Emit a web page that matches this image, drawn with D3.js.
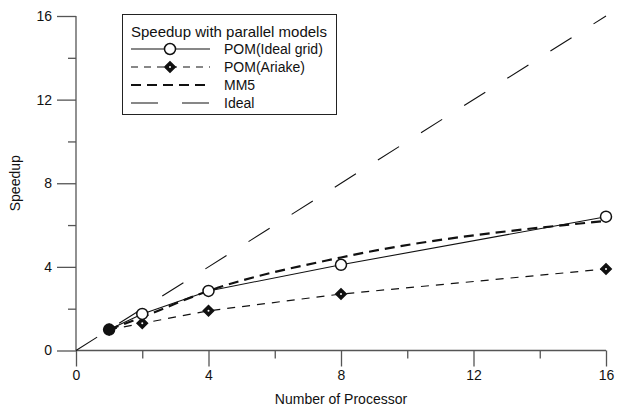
<!DOCTYPE html>
<html>
<head>
<meta charset="utf-8">
<script src="https://cdn.jsdelivr.net/npm/d3@7"></script>
<style>
  body { margin: 0; background: #fff; }
  svg text { font-family: "Liberation Sans", Arial, sans-serif; fill: #111; }
</style>
</head>
<body>
<div id="chart"></div>
<script>
// data
const procs = [1, 2, 4, 8, 16];
const pomIdeal = [1, 1.75, 2.85, 4.1, 6.4];
const pomAriake = [1, 1.3, 1.9, 2.7, 3.9];
const mm5 = [1, 1.6, 2.85, 4.45, 6.2];
const idealX = [0, 16];
const idealY = [0, 16];
const xTicks = [0, 4, 8, 12, 16];
const yTicks = [0, 4, 8, 12, 16];
const minorTicks = [2, 6, 10, 14];
const legendNames = ["POM(Ideal grid)", "POM(Ariake)", "MM5", "Ideal"];

const W = 617, H = 408;
const svg = d3.select("#chart").append("svg")
    .attr("width", W)
    .attr("height", H);

const x = d3.scaleLinear().domain([0, 16]).range([76, 606]);
const y = d3.scaleLinear().domain([0, 16]).range([350.5, 16]);
const axisColor = "#555";

// axes: major ticks long, minor short, both pointing outward
const xAxis = svg.append("g").attr("transform", `translate(0,${y(0)})`)
    .call(d3.axisBottom(x).tickValues(xTicks).tickSize(16).tickPadding(4).tickFormat(d3.format("d")));
const xMinor = svg.append("g").attr("transform", `translate(0,${y(0)})`)
    .call(d3.axisBottom(x).tickValues(minorTicks).tickSize(8).tickFormat(""));
const yAxis = svg.append("g").attr("transform", `translate(${x(0)},0)`)
    .call(d3.axisLeft(y).tickValues(yTicks).tickSize(19).tickPadding(5).tickFormat(d3.format("d")));
const yMinor = svg.append("g").attr("transform", `translate(${x(0)},0)`)
    .call(d3.axisLeft(y).tickValues(minorTicks).tickSize(8).tickFormat(""));

[xAxis, xMinor, yAxis, yMinor].forEach(g => {
    g.attr("font-family", null).attr("font-size", null);
    g.select(".domain").attr("stroke", axisColor).attr("stroke-width", 1.3);
    g.selectAll(".tick line").attr("stroke", axisColor).attr("stroke-width", 1.3);
    g.selectAll(".tick text").style("font-size", "14px").attr("fill", "#111");
});
// plain axis lines without end caps
xAxis.select(".domain").attr("d", `M${x(0)},0H${x(16)}`);
xMinor.select(".domain").remove();
yAxis.select(".domain").attr("d", `M0,${y(0)}V${y(16)}`);
yMinor.select(".domain").remove();

svg.append("text")
    .attr("x", x(8)).attr("y", 404)
    .attr("text-anchor", "middle")
    .style("font-size", "14px")
    .text("Number of Processor");

svg.append("text")
    .attr("transform", `translate(20,${y(8)}) rotate(-90)`)
    .attr("text-anchor", "middle")
    .style("font-size", "14px")
    .text("Speedup");

const line = d3.line().x(d => x(d[0])).y(d => y(d[1]));

// Ideal
svg.append("path")
    .datum(d3.zip(idealX, idealY))
    .attr("d", line)
    .attr("fill", "none").attr("stroke", "#111").attr("stroke-width", 1.1)
    .attr("stroke-dasharray", "25,26");

// POM(Ariake)
svg.append("path")
    .datum(d3.zip(procs, pomAriake))
    .attr("d", line)
    .attr("fill", "none").attr("stroke", "#111").attr("stroke-width", 1.2)
    .attr("stroke-dasharray", "8,7");

// MM5
svg.append("path")
    .datum(d3.zip(procs, mm5))
    .attr("d", d3.line().curve(d3.curveMonotoneX).x(d => x(d[0])).y(d => y(d[1])))
    .attr("fill", "none").attr("stroke", "#111").attr("stroke-width", 2.2)
    .attr("stroke-dasharray", "10,6");

// POM(Ideal grid)
svg.append("path")
    .datum(d3.zip(procs, pomIdeal))
    .attr("d", line)
    .attr("fill", "none").attr("stroke", "#111").attr("stroke-width", 1.1);

const diamond = d3.symbol().type(d3.symbolDiamond2).size(70);

svg.selectAll(".ariake")
    .data(d3.zip(procs, pomAriake))
    .enter().append("path")
    .attr("class", "ariake")
    .attr("transform", d => `translate(${x(d[0])},${y(d[1])})`)
    .attr("d", diamond)
    .attr("fill", "#111").attr("stroke", "#111").attr("stroke-width", 1.5);
svg.selectAll(".ariakeDot")
    .data(d3.zip(procs, pomAriake).slice(1))
    .enter().append("circle")
    .attr("cx", d => x(d[0])).attr("cy", d => y(d[1]))
    .attr("r", 1).attr("fill", "#fff");

svg.selectAll(".pomIdeal")
    .data(d3.zip(procs, pomIdeal))
    .enter().append("circle")
    .attr("class", "pomIdeal")
    .attr("cx", d => x(d[0])).attr("cy", d => y(d[1]))
    .attr("r", 5.5)
    .attr("fill", (d, i) => i === 0 ? "#111" : "#fff")
    .attr("stroke", "#111").attr("stroke-width", 1.5);

// legend
const lg = svg.append("g");
lg.append("rect")
    .attr("x", 122.5).attr("y", 14.5).attr("width", 214).attr("height", 100)
    .attr("fill", "#fff").attr("stroke", "#222").attr("stroke-width", 1);
lg.append("text")
    .attr("x", 131).attr("y", 37)
    .style("font-size", "15px")
    .text("Speedup with parallel models");

const rowY = [49, 67, 85, 103];
const rowStyle = [
    { dash: null, width: 1.1 },
    { dash: "7,6", width: 1.2 },
    { dash: "10,6", width: 2.2 },
    { dash: "27,24", width: 1.1 }
];
legendNames.forEach((name, i) => {
    lg.append("line")
        .attr("x1", 131).attr("x2", 210)
        .attr("y1", rowY[i]).attr("y2", rowY[i])
        .attr("stroke", "#111").attr("stroke-width", rowStyle[i].width)
        .attr("stroke-dasharray", rowStyle[i].dash);
    lg.append("text")
        .attr("x", 224).attr("y", rowY[i] + 5)
        .style("font-size", "14px")
        .text(name);
});
lg.append("circle")
    .attr("cx", 170).attr("cy", rowY[0]).attr("r", 5.5)
    .attr("fill", "#fff").attr("stroke", "#111").attr("stroke-width", 1.5);
lg.append("path")
    .attr("transform", `translate(170,${rowY[1]})`)
    .attr("d", diamond)
    .attr("fill", "#111").attr("stroke", "#111").attr("stroke-width", 1.5);
lg.append("circle")
    .attr("cx", 170).attr("cy", rowY[1]).attr("r", 1).attr("fill", "#fff");
</script>
</body>
</html>
